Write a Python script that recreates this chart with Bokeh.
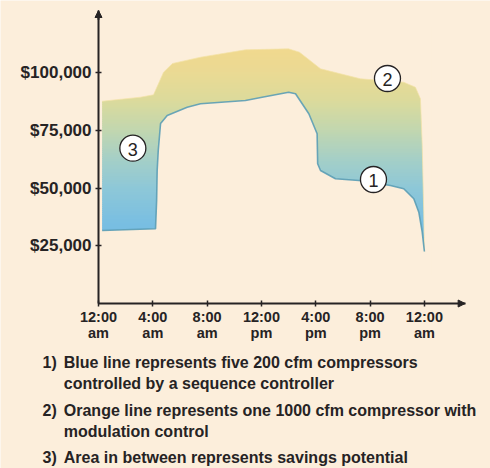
import numpy as np
from bokeh.plotting import figure
from bokeh.models import Range1d, FixedTicker, Arrow, NormalHead
from bokeh.core.properties import value
from bokeh.embed import file_html
from bokeh.resources import INLINE

# ---------------- data ----------------
# Orange line: one 1000 cfm compressor with modulation control (hour of day, $)
upper_hours = [0.27, 3.09, 4.05, 4.79, 5.45, 7.51, 10.82, 13.99, 14.8, 16.35,
               17.82, 19.29, 22.48, 23.34, 23.71, 23.84, 23.95, 24.0]
upper_cost = [87650, 89400, 90430, 100220, 104000, 106720, 109930, 110360, 108890, 101700,
              99530, 97360, 95890, 93720, 88700, 68460, 39560, 22530]

# Blue line: five 200 cfm compressors with a sequence controller (hour of day, $)
lower_hours = [0.27, 4.2, 4.28, 4.32, 4.4, 4.57, 5.06, 6.53, 7.51, 10.82, 12.05, 14.0,
               14.51, 15.49, 16.1, 16.14, 16.35, 17.45, 19.17, 21.5, 22.48, 23.22,
               23.59, 23.84, 24.0]
lower_cost = [31630, 32370, 44630, 57630, 66300, 78000, 81460, 85060, 86530, 87960, 89390, 91560,
              90870, 82200, 73530, 60530, 57630, 54030, 53300, 51130, 49700, 45370,
              39560, 30900, 22530]

# numbered callouts
callout_hours = [20.25, 21.28, 2.53]
callout_cost = [53730, 97490, 67290]
callout_text = ["1", "2", "3"]

# axis ticks
x_ticks = [0, 4, 8, 12, 16, 20, 24]
x_tick_labels = ["12:00\nam", "4:00\nam", "8:00\nam", "12:00\npm", "4:00\npm", "8:00\npm", "12:00\nam"]
y_ticks = [25000, 50000, 75000, 100000]
y_tick_labels = ["$25,000", "$50,000", "$75,000", "$100,000"]

# notes
note_numbers = ["1)", "", "2)", "", "3)"]
note_lines = ["Blue line represents five 200 cfm compressors",
              "controlled by a sequence controller",
              "Orange line represents one 1000 cfm compressor with",
              "modulation control",
              "Area in between represents savings potential"]

# ---------------- layout / styles ----------------
BG = "#FCEEDB"
INK = "#262324"
FONT = "Liberation Sans, Arial, sans-serif"

W, H = 490, 468
OX, OY = 98, 303                 # page position of the origin (0 h, $0)
AX_X_END, AX_Y_END = 27.0, 126960  # axis extents (arrow tips)
SX = (466 - OX) / 27.1           # px per hour
SY = (OY - 10) / 126960          # px per dollar

p = figure(width=W, height=H,
           x_range=Range1d(-OX / SX, (W - OX) / SX),
           y_range=Range1d(-(H - OY) / SY, OY / SY),
           output_backend="svg", toolbar_location=None, min_border=0)
p.background_fill_color = BG
p.border_fill_color = BG
p.outline_line_color = None
p.grid.visible = False


def page_to_data(px, py):
    return (px - OX) / SX, (OY - py) / SY


# gradient fill between the two lines: colour bands by value, masked outside the area
stop_v = [20000, 35000, 50000, 62000, 75000, 88000, 100000, 112000]
stop_r = [108, 122, 142, 164, 194, 220, 235, 242]
stop_g = [184, 191, 200, 207, 215, 219, 218, 217]
stop_b = [228, 226, 216, 200, 176, 156, 148, 142]
n_bands = 110
edges = np.linspace(20000, 112000, n_bands + 1)
step = edges[1] - edges[0]
mids = (edges[:-1] + edges[1:]) / 2
cols = ["#%02x%02x%02x" % (int(np.interp(m, stop_v, stop_r)), int(np.interp(m, stop_v, stop_g)),
                           int(np.interp(m, stop_v, stop_b))) for m in mids]
x_lo = min(min(upper_hours), min(lower_hours))
x_hi = max(max(upper_hours), max(lower_hours))
p.quad(left=x_lo, right=x_hi, bottom=edges[:-1], top=edges[:-1] + step * 1.6,
       fill_color=cols, line_color=None)

# masks (extended a little past both ends so that no seam shows)
mask_ux = [x_lo - 0.2] + upper_hours + [x_hi + 0.5]
mask_uy = [upper_cost[0]] + upper_cost + [upper_cost[-1]]
mask_lx = [x_lo - 0.2] + lower_hours + [x_hi + 0.5]
mask_ly = [lower_cost[0]] + lower_cost + [lower_cost[-1]]
p.varea(x=mask_ux, y1=mask_uy, y2=[120000] * len(mask_ux), fill_color=BG)
p.varea(x=mask_lx, y1=[12000] * len(mask_lx), y2=mask_ly, fill_color=BG)

# soft edges of the area
p.line(upper_hours, upper_cost, line_color="#F3E2A8", line_width=1.0, line_alpha=0.7)
p.line(lower_hours, lower_cost, line_color="#5B9DB5", line_width=1.6, line_alpha=0.9)

# callouts
p.scatter(callout_hours, callout_cost, size=26, marker="circle", fill_color="white",
          line_color=INK, line_width=1.3)
p.text(callout_hours, callout_cost, text=callout_text, text_align="center",
       text_baseline="middle", text_font=value(FONT), text_font_size="18px", text_color=INK,
       y_offset=1)

# axes through the origin
for ax in (p.xaxis, p.yaxis):
    ax.fixed_location = 0
    ax.axis_line_color = INK
    ax.axis_line_width = 2
    ax.major_tick_line_color = INK
    ax.major_tick_line_width = 1.5
    ax.major_tick_in = 3
    ax.major_tick_out = 3
    ax.minor_tick_line_color = None
    ax.major_label_text_font = FONT
    ax.major_label_text_font_style = "bold"
    ax.major_label_text_color = INK

p.xaxis.bounds = (0, AX_X_END)
p.xaxis.ticker = FixedTicker(ticks=x_ticks)
p.xaxis.major_label_overrides = {t: lab for t, lab in zip(x_ticks, x_tick_labels)}
p.xaxis.major_label_text_font_size = "14.5px"
p.xaxis.major_label_text_line_height = 1.0
p.xaxis.major_label_standoff = 2

p.yaxis.bounds = (0, AX_Y_END)
p.yaxis.ticker = FixedTicker(ticks=y_ticks)
p.yaxis.major_label_overrides = {t: lab for t, lab in zip(y_ticks, y_tick_labels)}
p.yaxis.major_label_text_font_size = "17px"
p.yaxis.major_label_standoff = 4

# arrow heads on the axes
p.add_layout(Arrow(end=NormalHead(size=7, fill_color=INK, line_color=INK),
                   x_start=AX_X_END - 0.5, y_start=0, x_end=AX_X_END, y_end=0,
                   line_color=INK, line_width=2))
p.add_layout(Arrow(end=NormalHead(size=7, fill_color=INK, line_color=INK),
                   x_start=0, y_start=AX_Y_END - 4000, x_end=0, y_end=AX_Y_END,
                   line_color=INK, line_width=2))

# ---------------- notes below the chart ----------------
note_baselines = [361.8, 382.8, 409.8, 430.5, 456.5]
num_xy = [page_to_data(42.0, b) for b in note_baselines]
txt_xy = [page_to_data(63.3, b) for b in note_baselines]
p.text(x=[a for a, _ in num_xy], y=[b for _, b in num_xy], text=note_numbers,
       text_font=value(FONT), text_font_style="bold", text_font_size="16px",
       text_color=INK, text_baseline="alphabetic")
p.text(x=[a for a, _ in txt_xy], y=[b for _, b in txt_xy], text=note_lines,
       text_font=value(FONT), text_font_style="bold", text_font_size="16px",
       text_color=INK, text_baseline="alphabetic")

open("out.html", "w").write(file_html(p, INLINE))
